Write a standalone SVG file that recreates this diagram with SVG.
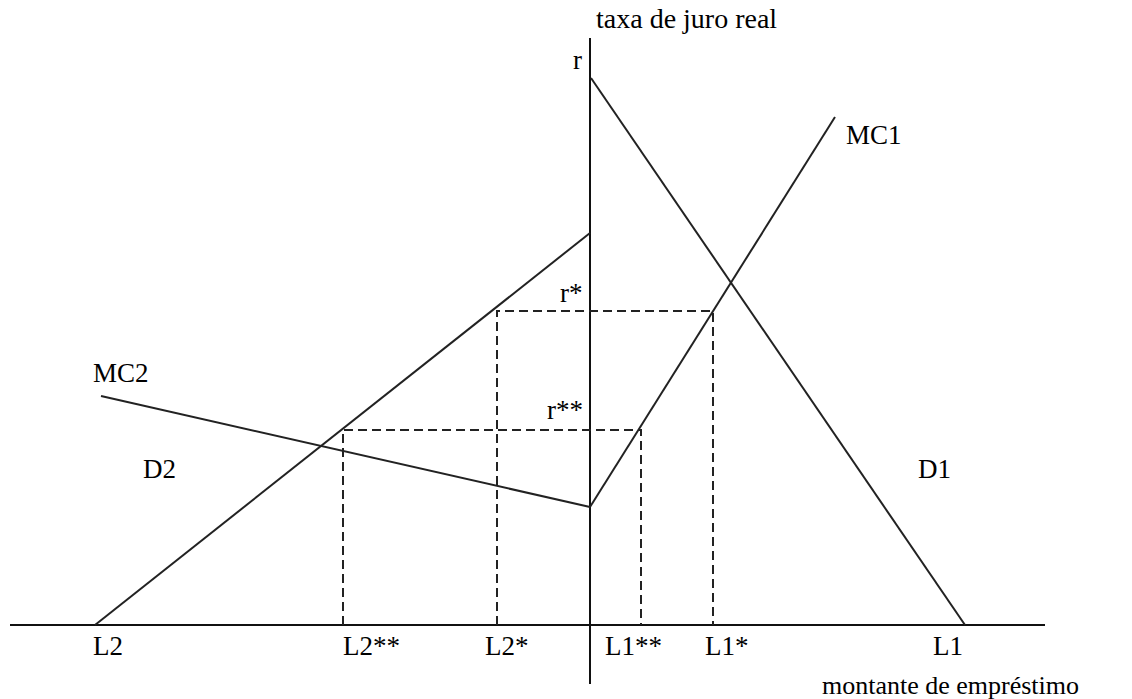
<svg xmlns="http://www.w3.org/2000/svg" width="1132" height="699" viewBox="0 0 1132 699">
<style>
.ax{stroke:#111;stroke-width:2;fill:none}
.ln{stroke:#222;stroke-width:2;fill:none}
.ds{stroke:#222;stroke-width:2;fill:none;stroke-dasharray:9 5}
text{font-family:"Liberation Serif","Times New Roman",serif;font-size:27px;fill:#000}
</style>
<rect width="1132" height="699" fill="#fff"/>
<g id="axes">
<line class="ax" x1="590" y1="38" x2="590" y2="684"/>
<line class="ax" x1="10" y1="625" x2="1045" y2="625"/>
</g>
<g id="connectors">
<line id="D1" class="ln" x1="591" y1="78" x2="965" y2="625"/>
<line id="MC1" class="ln" x1="590" y1="507" x2="835" y2="117"/>
<line id="D2" class="ln" x1="95" y1="625" x2="590" y2="233"/>
<line id="MC2" class="ln" x1="101" y1="396" x2="590" y2="507"/>
<polyline class="ds" points="497,625 497,311 713,311 713,625"/>
<polyline class="ds" points="343,625 343,430 641,430 641,625"/>
</g>
<g id="labels">
<text x="596" y="28" style="font-size:28px">taxa de juro real</text>
<text x="573" y="69">r</text>
<text x="846" y="144">MC1</text>
<text x="560" y="302">r*</text>
<text x="547" y="419">r**</text>
<text x="93" y="382">MC2</text>
<text x="143" y="478">D2</text>
<text x="918" y="478">D1</text>
<text x="93" y="655">L2</text>
<text x="343" y="655">L2**</text>
<text x="485" y="655">L2*</text>
<text x="605" y="655">L1**</text>
<text x="705" y="655">L1*</text>
<text x="933" y="655">L1</text>
<text x="822" y="694" style="font-size:26px">montante de empréstimo</text>
</g>
</svg>
